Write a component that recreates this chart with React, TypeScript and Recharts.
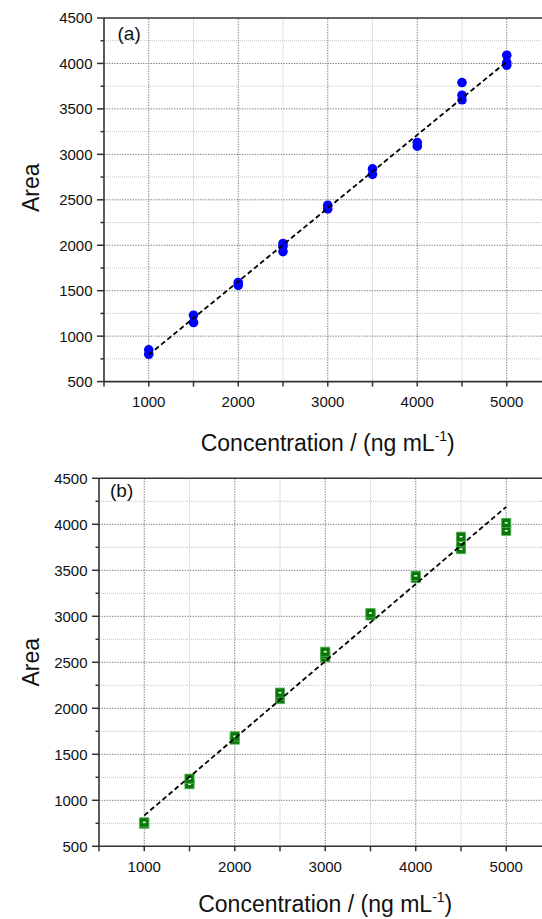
import React from "react";
import {
  ScatterChart,
  Scatter,
  XAxis,
  YAxis,
  ReferenceLine,
} from "recharts";

// concentrations (ng/mL) and replicate peak areas
const LEVELS = [1000, 1500, 2000, 2500, 3000, 3500, 4000, 4500, 5000];
const AREA_A = [
  [800, 850],
  [1150, 1230],
  [1560, 1590],
  [1930, 1990, 2020],
  [2400, 2440],
  [2780, 2840],
  [3090, 3130],
  [3600, 3650, 3790],
  [3980, 4010, 4090],
];
const AREA_B = [
  [745, 760],
  [1175, 1235],
  [1660, 1695],
  [2100, 2140, 2170],
  [2555, 2590, 2615],
  [3010, 3035],
  [3415, 3440],
  [3730, 3805, 3865],
  [3930, 4015],
];
// regression line end points
const FIT_X = [1000, 5000];
const FIT_A = [795, 4020];
const FIT_B = [835, 4190];

const X_TICKS = [500, 1000, 1500, 2000, 2500, 3000, 3500, 4000, 4500, 5000, 5500];
const Y_TICKS = [
  500, 750, 1000, 1250, 1500, 1750, 2000, 2250, 2500, 2750, 3000, 3250, 3500,
  3750, 4000, 4250, 4500,
];
const X_MAJOR = [1000, 2000, 3000, 4000, 5000];
const X_MINOR = [1500, 2500, 3500, 4500];
const Y_MAJOR = [1000, 1500, 2000, 2500, 3000, 3500, 4000];
const Y_MINOR = [750, 1250, 1750, 2250, 2750, 3250, 3750, 4250];

const FONT = "'Liberation Sans', Arial, sans-serif";
const AXIS = "#333";

const toPoints = (areas: number[][]) =>
  LEVELS.flatMap((c, i) => areas[i].map((a) => ({ x: c, y: a })));
const toFit = (ys: number[]) => FIT_X.map((x, i) => ({ x, y: ys[i] }));

const Y_OFF = 11.5; // tickSize + tickMargin
const X_OFF = 15;

const YTick = (props: any) => {
  const { x, y, payload } = props;
  const v = payload.value;
  const major = v % 500 === 0;
  const ax = x + Y_OFF;
  return (
    <g>
      <line x1={ax - (major ? 7 : 3.5)} x2={ax} y1={y} y2={y} stroke={AXIS} strokeWidth={1.5} />
      {major && (
        <text x={x} y={y} dy="0.36em" textAnchor="end" fontSize={15} fontFamily={FONT} fill="#111">
          {v}
        </text>
      )}
    </g>
  );
};

const XTick = (props: any) => {
  const { x, y, payload } = props;
  const v = payload.value;
  const ay = y - X_OFF;
  const labelled = v % 1000 === 0 && v >= 1000 && v <= 5000;
  return (
    <g>
      <line x1={x} x2={x} y1={ay} y2={ay + 5} stroke={AXIS} strokeWidth={1.5} />
      {labelled && (
        <text x={x} y={y} dy="0.71em" textAnchor="middle" fontSize={15} fontFamily={FONT} fill="#111">
          {v}
        </text>
      )}
    </g>
  );
};

const XTitle = ({ viewBox, base }: any) => {
  const { x, y, width } = viewBox;
  return (
    <text x={x + width / 2} y={y + base} textAnchor="middle" fontSize={23} fontFamily={FONT} fill="#111">
      Concentration / (ng mL
      <tspan fontSize={14} dy={-10}>-1</tspan>
      <tspan dy={10}>)</tspan>
    </text>
  );
};

const YTitle = ({ viewBox, tag, tagDx, tagDy, shift }: any) => {
  const { x, y, width, height } = viewBox;
  const cy = y + height / 2 + shift;
  return (
    <g>
      <text
        x={31}
        y={cy}
        transform={`rotate(-90, 31, ${cy})`}
        textAnchor="middle"
        dominantBaseline="central"
        fontSize={23}
        fontFamily={FONT}
        fill="#111"
      >
        Area
      </text>
      <text x={x + width + tagDx} y={y + tagDy} fontSize={19} fontFamily={FONT} fill="#111">
        {tag}
      </text>
    </g>
  );
};

const Dot = (p: any) => <circle cx={p.cx} cy={p.cy} r={4.8} fill="#0000ff" />;
const Box = (p: any) => (
  <g>
    <rect x={p.cx - 4.6} y={p.cy - 4.6} width={9.2} height={9.2} fill="#087808" stroke="#58b058" strokeWidth={0.8} />
    <rect x={p.cx - 1.5} y={p.cy - 0.8} width={3} height={1.6} fill="#e8f4e8" />
  </g>
);

type PanelProps = {
  areas: number[][];
  fit: number[];
  height: number;
  top: number;
  yWidth: number;
  xHeight: number;
  tag: string;
  tagDx: number;
  tagDy: number;
  titleBase: number;
  titleShift: number;
  marker: (p: any) => React.ReactElement;
};

const Panel = (p: PanelProps) => (
  <ScatterChart
    width={570}
    height={p.height}
    margin={{ top: p.top, right: 18.5, bottom: 0, left: 0 }}
    style={{ display: "block" }}
  >
    <XAxis
      type="number"
      dataKey="x"
      domain={[500, 5500]}
      ticks={X_TICKS}
      interval={0}
      height={p.xHeight}
      tickSize={5}
      tickMargin={10}
      tickLine={false}
      tick={<XTick />}
      axisLine={{ stroke: AXIS, strokeWidth: 1.6 }}
      label={<XTitle base={p.titleBase} />}
    />
    <YAxis
      type="number"
      dataKey="y"
      domain={[500, 4500]}
      ticks={Y_TICKS}
      interval={0}
      width={p.yWidth}
      tickSize={7}
      tickMargin={4.5}
      tickLine={false}
      tick={<YTick />}
      axisLine={{ stroke: AXIS, strokeWidth: 1.6 }}
      label={<YTitle tag={p.tag} tagDx={p.tagDx} tagDy={p.tagDy} shift={p.titleShift} />}
    />
    {Y_MINOR.map((v) => (
      <ReferenceLine key={"ym" + v} y={v} stroke="#c4c4c4" strokeDasharray="1 1" />
    ))}
    {X_MINOR.map((v) => (
      <ReferenceLine key={"xm" + v} x={v} stroke="#c4c4c4" strokeDasharray="1 1" />
    ))}
    {Y_MAJOR.map((v) => (
      <ReferenceLine key={"yM" + v} y={v} stroke="#777" strokeDasharray="1.3 1.3" />
    ))}
    {X_MAJOR.map((v) => (
      <ReferenceLine key={"xM" + v} x={v} stroke="#777" strokeDasharray="1.3 1.3" />
    ))}
    <ReferenceLine y={4500} stroke={AXIS} strokeWidth={1.6} />
    <Scatter data={toPoints(p.areas)} shape={p.marker} isAnimationActive={false} />
    <Scatter
      data={toFit(p.fit)}
      line={{ stroke: "#000", strokeWidth: 1.8, strokeDasharray: "5 3" }}
      shape={() => <g />}
      isAnimationActive={false}
    />
  </ScatterChart>
);

export default function App() {
  return (
    <div
      style={{
        position: "absolute",
        left: 0,
        top: 0,
        width: 542,
        height: 919,
        overflow: "hidden",
        background: "#fff",
      }}
    >
      <Panel
        areas={AREA_A}
        fit={FIT_A}
        height={456}
        top={18}
        yWidth={104}
        xHeight={74.4}
        tag="(a)"
        tagDx={13.5}
        tagDy={22}
        titleBase={69}
        titleShift={-12}
        marker={Dot}
      />
      <Panel
        areas={AREA_B}
        fit={FIT_B}
        height={463}
        top={22.3}
        yWidth={99}
        xHeight={72.7}
        tag="(b)"
        tagDx={11}
        tagDy={18.7}
        titleBase={66}
        titleShift={0}
        marker={Box}
      />
    </div>
  );
}
